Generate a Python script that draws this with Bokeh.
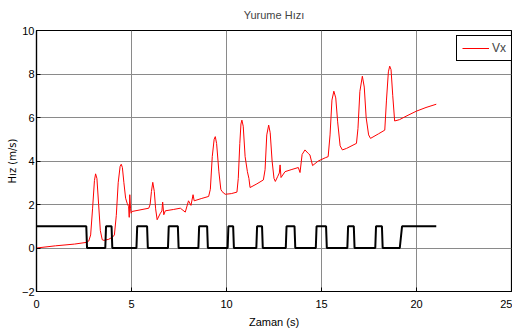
from bokeh.plotting import figure
from bokeh.embed import file_html
from bokeh.resources import INLINE
from bokeh.models import ColumnDataSource, Legend, LegendItem, FixedTicker

# ---- data ----
t_vx = [0.0, 0.5, 1.0, 1.5, 2.0, 2.64, 2.75, 2.85, 2.95, 3.05, 3.11, 3.18, 3.27, 3.36, 3.46, 3.55,
        3.8, 4.0, 4.1, 4.2, 4.3, 4.4, 4.46, 4.52, 4.6, 4.69, 4.77, 4.85, 4.88, 4.91, 4.95, 4.98,
        5.03, 5.5, 5.91, 5.98, 6.05, 6.12, 6.2, 6.27, 6.35, 6.52, 6.6, 6.64, 6.7, 6.78, 7.2,
        7.57, 7.83, 8.0, 8.13, 8.24, 8.3, 8.7, 9.06, 9.15, 9.25, 9.35, 9.41, 9.48, 9.6, 9.7,
        9.76, 9.93, 10.25, 10.55, 10.62, 10.7, 10.76, 10.81, 10.88, 10.98, 11.1, 11.18, 11.24,
        11.6, 11.94, 12.03, 12.12, 12.22, 12.3, 12.4, 12.5, 12.57, 12.7, 12.78, 12.82, 12.87,
        13.08, 13.4, 13.78, 13.87, 13.98, 14.13, 14.3, 14.39, 14.53, 14.83, 15.2, 15.35, 15.45,
        15.55, 15.65, 15.75, 15.85, 15.98, 16.1, 16.32, 16.84, 16.92, 17.02, 17.15, 17.25,
        17.35, 17.48, 17.58, 18.0, 18.33, 18.42, 18.52, 18.59, 18.66, 18.75, 18.85, 19.1,
        19.5, 19.99, 20.5, 21.04]
vx = [0.0, 0.05, 0.1, 0.14, 0.18, 0.26, 0.32, 0.6, 1.8, 3.1, 3.41, 3.2, 2.0, 0.8, 0.38, 0.35,
      0.4, 0.5, 0.6, 1.5, 3.0, 3.75, 3.85, 3.7, 3.0, 2.29, 2.06, 1.9, 1.41, 2.45, 1.8, 1.6,
      1.68, 1.76, 1.83, 2.0, 2.6, 3.02, 2.6, 1.8, 1.30, 1.6, 1.7, 2.11, 1.53, 1.71, 1.77,
      1.83, 1.65, 2.17, 1.96, 2.45, 2.17, 2.28, 2.37, 2.7, 4.2, 5.0, 5.12, 4.8, 3.5, 2.7,
      2.6, 2.47, 2.5, 2.57, 3.2, 4.8, 5.7, 5.88, 5.6, 4.2, 3.51, 3.2, 2.78,
      2.95, 3.13, 3.6, 5.2, 5.65, 5.3, 4.0, 3.2, 3.06, 3.3, 3.45, 3.82, 3.24,
      3.51, 3.6, 3.7, 3.47, 4.3, 4.51, 4.35, 4.28, 3.79, 4.0, 4.15, 4.2, 5.2,
      6.8, 7.21, 6.9, 5.8, 4.7, 4.51, 4.58, 4.81, 5.5, 7.2, 7.9, 7.4,
      6.0, 5.2, 5.04, 5.25, 5.42, 6.8, 8.1, 8.36, 8.2, 7.0, 5.84, 5.9,
      6.08, 6.29, 6.46, 6.61]

t_contact = [0.0, 2.62, 2.66,
             3.62, 3.66, 3.95, 3.99,
             5.26, 5.30, 5.82, 5.86,
             6.92, 6.96, 7.44, 7.48,
             8.52, 8.56, 8.98, 9.02,
             10.06, 10.10, 10.35, 10.39,
             11.57, 11.61, 11.87, 11.91,
             13.12, 13.16, 13.58, 13.62,
             14.70, 14.74, 15.24, 15.28,
             16.36, 16.40, 16.70, 16.74,
             17.83, 17.87, 18.18, 18.22,
             19.12, 19.24, 21.04]
contact = [1, 1, 0,
           0, 1, 1, 0,
           0, 1, 1, 0,
           0, 1, 1, 0,
           0, 1, 1, 0,
           0, 1, 1, 0,
           0, 1, 1, 0,
           0, 1, 1, 0,
           0, 1, 1, 0,
           0, 1, 1, 0,
           0, 1, 1, 0,
           0, 1, 1]

x_ticks = [0, 5, 10, 15, 20, 25]
y_ticks = [-2, 0, 2, 4, 6, 8, 10]

FONT = "Liberation Sans"

p = figure(width=512, height=332, x_range=(0, 25), y_range=(-2, 10),
           output_backend="svg", toolbar_location=None,
           min_border_left=36, min_border_right=1, min_border_top=29, min_border_bottom=41)
p.title.text = "Yurume Hızı"
p.title.align = "center"
p.title.vertical_align = "top"
p.title.text_font = FONT
p.title.text_font_size = "11px"
p.title.text_font_style = "normal"
p.title.standoff = 16

p.background_fill_color = "white"
p.border_fill_color = "white"
p.outline_line_color = "black"
p.outline_line_width = 1.2

for ax in (p.xaxis[0], p.yaxis[0]):
    ax.major_tick_in = 4
    ax.major_tick_out = 0
    ax.minor_tick_in = 0
    ax.minor_tick_out = 0
    ax.axis_line_color = "black"
    ax.axis_line_width = 1.2
    ax.major_tick_line_color = "black"
    ax.major_label_text_font = FONT
    ax.major_label_text_font_size = "11px"
    ax.major_label_text_color = "black"
    ax.axis_label_text_font = FONT
    ax.axis_label_text_font_size = "11px"
    ax.axis_label_text_font_style = "normal"
    ax.axis_label_text_color = "black"

p.xaxis.ticker = FixedTicker(ticks=x_ticks)
p.yaxis.ticker = FixedTicker(ticks=y_ticks)
p.xaxis.axis_label = "Zaman (s)"
p.yaxis.axis_label = "Hız (m/s)"
p.yaxis.axis_label_text_font = "DejaVu Sans"
p.yaxis.axis_label_text_font_size = "10px"
p.xaxis.major_label_standoff = 8
p.xaxis.axis_label_standoff = 5
p.yaxis.major_label_standoff = 2
p.yaxis.axis_label_standoff = 1

p.grid.grid_line_color = "#8a8a8a"
p.grid.grid_line_width = 1
p.xgrid.ticker = FixedTicker(ticks=x_ticks)
p.ygrid.ticker = FixedTicker(ticks=y_ticks)

src_vx = ColumnDataSource(dict(t=t_vx, v=vx))
src_c = ColumnDataSource(dict(t=t_contact, c=contact))

r_vx = p.line("t", "v", source=src_vx, line_color="red", line_width=1)
p.line("t", "c", source=src_c, line_color="black", line_width=2)

legend = Legend(items=[LegendItem(label="Vx", renderers=[r_vx])],
                location=(420, 230))
legend.border_line_color = "black"
legend.border_line_alpha = 1.0
legend.border_line_width = 1.5
legend.background_fill_color = "white"
legend.background_fill_alpha = 1.0
legend.label_text_font = FONT
legend.label_text_font_size = "12px"
legend.glyph_width = 27
legend.glyph_height = 12
legend.label_height = 12
legend.label_standoff = 3
legend.padding = 5
legend.margin = 0
legend.spacing = 0
p.add_layout(legend, "center")

open("out.html", "w").write(file_html(p, INLINE))
